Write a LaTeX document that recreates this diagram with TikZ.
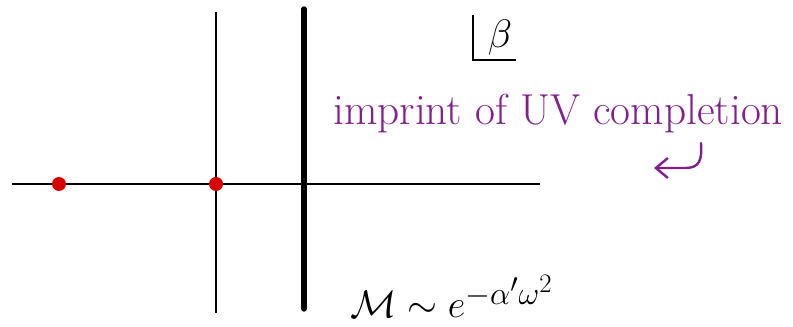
\documentclass[tikz,border=0pt]{standalone}
\usetikzlibrary{arrows.meta}
\definecolor{uvpurple}{RGB}{128,32,140}
\definecolor{dotred}{RGB}{215,0,0}
\begin{document}
\begin{tikzpicture}[x=0.75pt,y=-0.75pt,
  axis/.style={line width=1.4pt,black},
  cut/.style={line width=4pt,black,line cap=round},
  pole/.style={circle,fill=dotred,inner sep=0pt,minimum size=10.5pt},
  uvtext/.style={text=uvpurple,font=\fontsize{32.5}{34}\selectfont,inner sep=0pt},
  uvarrow/.style={uvpurple,line width=1.8pt,line cap=round,-{Straight Barb[length=9pt,width=15pt,line width=1.8pt]}}]
\useasboundingbox (0,0) rectangle (793,327);
% axes
\coordinate (hl) at (12,184);
\coordinate (hr) at (540,184);
\coordinate (vt) at (216,12);
\coordinate (vb) at (216,313);
\coordinate (ct) at (304,9);
\coordinate (cb) at (304,309);
\draw[axis] (hl) -- (hr);
\draw[axis] (vt) -- (vb);
\draw[cut] (ct) -- (cb);
\node[pole] (p1) at (59,184) {};
\node[pole] (p2) at (216,184) {};
% beta corner label
\coordinate (bt) at (473,15);
\coordinate (bc) at (473,60);
\coordinate (br) at (516,60);
\draw[line width=1.4pt] (bt) -- (bc) -- (br);
\node[font=\Huge,scale=1.2,inner sep=0pt] (beta) at (500,38) {$\beta$};
% purple annotation
\node[uvtext,anchor=base west] (uv) at (333,125) {imprint of UV completion};
\coordinate (a1) at (701,143);
\coordinate (a2) at (654,168);
\draw[uvarrow] (a1) .. controls (702,160) and (700,168) .. (685,168) -- (a2);
% formula
\node[anchor=base west,inner sep=0pt,font=\Huge,scale=1.16] (form) at (350,318) {$\mathcal{M}\sim e^{-\alpha'\omega^2}$};
\end{tikzpicture}
\end{document}
